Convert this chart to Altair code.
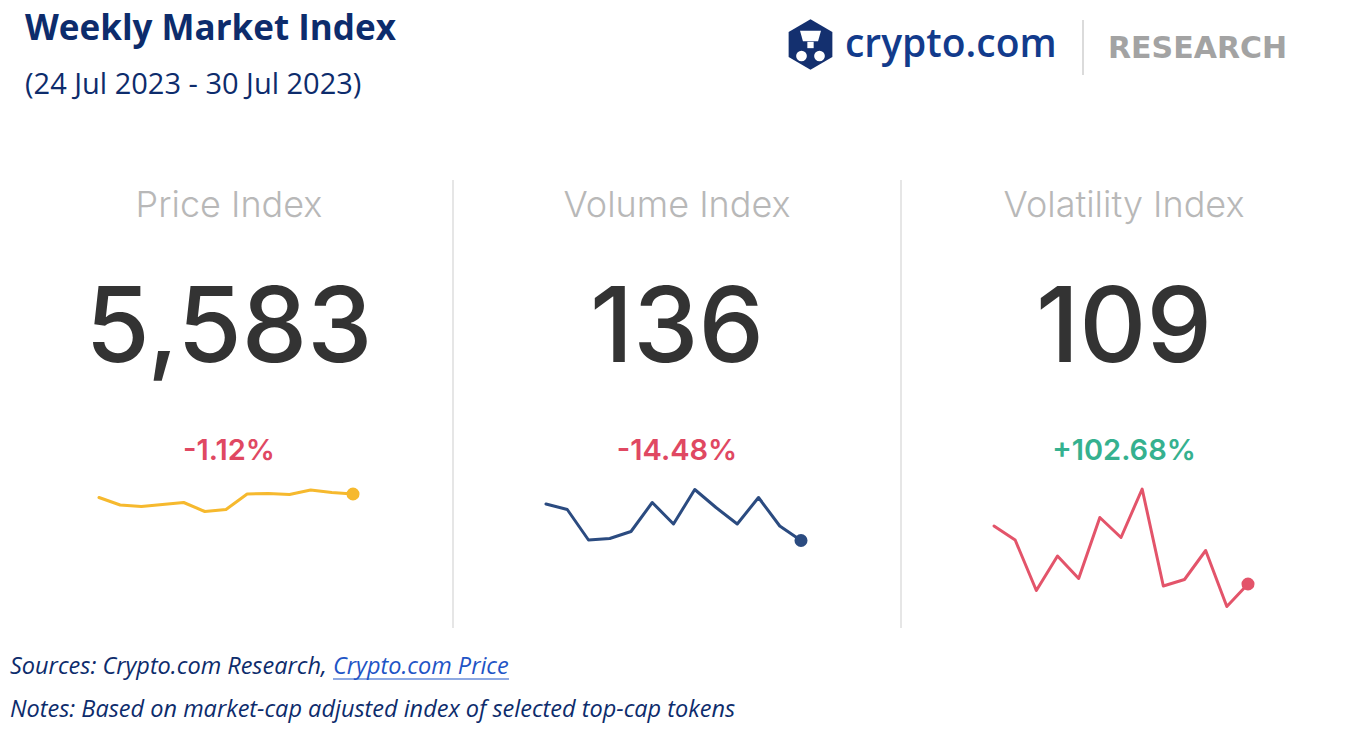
import altair as alt
import pandas as pd

# ---------------- data ----------------
TITLE = "Weekly Market Index"
SUBTITLE = "(24 Jul 2023 - 30 Jul 2023)"
BRAND = "crypto.com"
BRAND_TAG = "RESEARCH"
PANEL_NAMES = ["Price Index", "Volume Index", "Volatility Index"]
PANEL_VALUES = ["5,583", "136", "109"]
PANEL_CHANGES = ["-1.12%", "-14.48%", "+102.68%"]
SOURCE_TEXT = "Sources: Crypto.com Research,"
SOURCE_LINK = "Crypto.com Price"
NOTES_TEXT = "Notes: Based on market-cap adjusted index of selected top-cap tokens"

steps = list(range(13))
# sparkline levels (relative units)
price_spark = [122.5, 115, 113.5, 115.5, 117.5, 108.5, 110.5, 126, 126.5, 125.5, 130, 127.5, 126]
volume_spark = [116, 110.5, 80, 81.5, 88.5, 117.5, 96, 130.5, 112.5, 96, 122.5, 94, 79.5]
volatility_spark = [94, 80, 29.5, 64, 41.5, 102.5, 82.5, 131, 34, 40.5, 69.5, 13.5, 36]
SPARKS = [price_spark, volume_spark, volatility_spark]

# ---------------- styles ----------------
NAVY = "#0d2c6c"
BRAND_BLUE = "#123b8c"
LOGO_NAVY = "#14306f"
GREY_TITLE = "#b8b8b8"
BIG = "#333333"
RED = "#e04862"
GREEN = "#35b18f"
LINK = "#1f55c6"
SPARK_COLORS = ["#f6b92e", "#2b4b80", "#e3546a"]
NUM_FONT = "Inter"
TXT_FONT = "Open Sans"

W, H = 1337, 716
one = pd.DataFrame({"k": [0]})


def txt(s, x, y, size, color, font=TXT_FONT, weight="normal", align="left",
        style="normal", baseline="alphabetic"):
    return alt.Chart(one).mark_text(
        text=s, font=font, fontSize=size, fontWeight=weight, color=color,
        align=align, baseline=baseline, fontStyle=style
    ).encode(x=alt.value(x), y=alt.value(y))


layers = []
# header
layers.append(txt(TITLE, 17, 32, 35, NAVY, weight="bold"))
layers.append(txt(SUBTITLE, 17, 86, 29, NAVY))

# logo hexagon + face
HEX = "M0,-1L0.866,-0.5L0.866,0.5L0,1L-0.866,0.5L-0.866,-0.5Z"
TRAP = "M-1,-0.5L1,-0.5L0.72,0.5L-0.72,0.5Z"
layers.append(alt.Chart(one).mark_point(shape=HEX, filled=True, color=LOGO_NAVY, size=2550, opacity=1)
              .encode(x=alt.value(802.5), y=alt.value(36.5)))
layers.append(alt.Chart(one).mark_point(shape=TRAP, filled=True, color="white", size=440, opacity=1)
              .encode(x=alt.value(802.5), y=alt.value(28)))
layers.append(alt.Chart(one).mark_point(shape="square", filled=True, color="white", size=40, opacity=1)
              .encode(x=alt.value(802.5), y=alt.value(37)))
for cx in (793.5, 811.5):
    layers.append(alt.Chart(one).mark_point(shape="circle", filled=True, color="white", size=115, opacity=1)
                  .encode(x=alt.value(cx), y=alt.value(48)))
layers.append(txt(BRAND, 837, 49, 39, BRAND_BLUE, weight=600))
layers.append(alt.Chart(one).mark_rule(color="#cfcfcf", strokeWidth=1.5)
              .encode(x=alt.value(1075), y=alt.value(12), y2=alt.value(67)))
layers.append(txt(BRAND_TAG, 1100, 50, 30, "#a3a3a3", font="DejaVu Sans", weight="bold"))

# panels
CENTERS = [221, 669, 1116]
SPARK_X = [(91, 345), (538, 793), (986, 1240)]
for i in range(3):
    c = CENTERS[i]
    layers.append(txt(PANEL_NAMES[i], c, 209, 36, GREY_TITLE, font=NUM_FONT, weight=300, align="center"))
    layers.append(txt(PANEL_VALUES[i], c, 354, 104, BIG, font=NUM_FONT, weight=500, align="center"))
    ch = PANEL_CHANGES[i]
    layers.append(txt(ch, c, 452, 29, GREEN if ch.startswith("+") else RED,
                      font=NUM_FONT, weight=600, align="center"))

    df = pd.DataFrame({"step": steps, "level": SPARKS[i]})
    xs = alt.Scale(domain=[0, 12], range=list(SPARK_X[i]), nice=False, zero=False)
    ys = alt.Scale(domain=[0, 140], range=[612, 472], nice=False, zero=False)
    base = alt.Chart(df).encode(
        x=alt.X("step:Q", scale=xs, axis=None),
        y=alt.Y("level:Q", scale=ys, axis=None),
    )
    layers.append(base.mark_line(color=SPARK_COLORS[i], strokeWidth=3,
                                 strokeJoin="round", strokeCap="round"))
    layers.append(base.transform_filter(alt.datum.step == 12)
                  .mark_point(filled=True, color=SPARK_COLORS[i], size=170, opacity=1))

for dx in (445, 893):
    layers.append(alt.Chart(one).mark_rule(color="#dedede", strokeWidth=1.5)
                  .encode(x=alt.value(dx), y=alt.value(172), y2=alt.value(620)))

# footer
layers.append(txt(SOURCE_TEXT, 2, 666, 23.5, NAVY, style="italic"))
layers.append(txt(SOURCE_LINK, 325, 666, 23.5, LINK, style="italic"))
layers.append(alt.Chart(one).mark_rule(color=LINK, strokeWidth=1.2)
              .encode(x=alt.value(325), x2=alt.value(501), y=alt.value(671)))
layers.append(txt(NOTES_TEXT, 2, 709, 23.5, NAVY, style="italic"))

chart = alt.layer(*layers).resolve_scale(x="independent", y="independent").properties(
    width=W, height=H, padding=0, background="white",
    autosize=alt.AutoSizeParams(type="none")
).configure_view(stroke=None)

chart.save("out.html", embed_options={"renderer": "svg", "actions": False})
